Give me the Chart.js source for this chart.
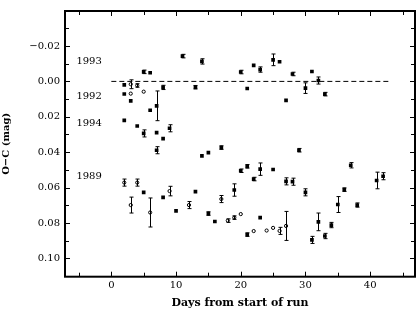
<!DOCTYPE html>
<html>
<head>
<meta charset="utf-8">
<script src="https://cdn.jsdelivr.net/npm/chart.js@4/dist/chart.umd.min.js"></script>
<style>
html,body{margin:0;padding:0;background:#fff;}
canvas{display:block;}
</style>
</head>
<body>
<canvas id="c" width="420" height="311"></canvas>
<script>
// ---- data ----
// 1993 / 1992 band (around zero), filled markers
const daysA = [2, 2, 3, 5, 6, 8, 11, 13, 14, 20, 21, 22, 23, 25, 26, 27, 28, 30, 31, 32, 33];
const valsA = [0.0020, 0.0071, 0.0110, -0.0054, -0.0049, 0.0034, -0.0143, 0.0033, -0.0113, -0.0053, 0.0040, -0.0091, -0.0067, -0.0122, -0.0111, 0.0107, -0.0042, 0.0038, -0.0056, -0.0005, 0.0072];
const errA  = [0, 0, 0, 0.0010, 0, 0.0012, 0.0010, 0.0010, 0.0015, 0.0010, 0, 0, 0.0015, 0.0033, 0, 0, 0.0010, 0.0030, 0, 0.0020, 0.0010];
// around zero, open markers
const daysAo = [3, 4, 3, 5];
const valsAo = [0.0016, 0.0023, 0.0069, 0.0058];
const errAo  = [0.0025, 0.0010, 0, 0];
// 1994 band, filled markers
const daysB = [2, 4, 5, 6, 7, 7, 8, 9, 7, 14, 15, 17, 29];
const valsB = [0.0220, 0.0252, 0.0294, 0.0163, 0.0138, 0.0290, 0.0323, 0.0265, 0.0389, 0.0421, 0.0403, 0.0374, 0.0389];
const errB  = [0, 0, 0.0020, 0, 0.0084, 0, 0, 0.0020, 0.0020, 0, 0, 0.0010, 0.0010];
// 1989 band, filled markers
const daysC = [5, 8, 10, 13, 15, 16, 19, 20, 21, 22, 23, 25, 21, 23, 27, 28, 30, 31, 32, 33, 34, 35, 36, 37, 38, 41, 42];
const valsC = [0.0627, 0.0656, 0.0732, 0.0623, 0.0747, 0.0792, 0.0614, 0.0505, 0.0480, 0.0552, 0.0496, 0.0498, 0.0866, 0.0770, 0.0565, 0.0567, 0.0627, 0.0896, 0.0794, 0.0874, 0.0812, 0.0696, 0.0612, 0.0474, 0.0699, 0.0560, 0.0536];
const errC  = [0, 0, 0, 0, 0.0010, 0, 0.0035, 0.0010, 0.0010, 0.0010, 0.0035, 0, 0.0010, 0, 0.0020, 0.0020, 0.0020, 0.0020, 0.0050, 0.0015, 0.0015, 0.0045, 0.0010, 0.0015, 0.0012, 0.0047, 0.0020];
// 1989 band, open markers
const daysCo = [2, 3, 4, 6, 9, 12, 17, 18, 19, 20, 22, 24, 25, 26, 27];
const valsCo = [0.0572, 0.0699, 0.0572, 0.0741, 0.0620, 0.0699, 0.0665, 0.0787, 0.0770, 0.0750, 0.0846, 0.0843, 0.0828, 0.0845, 0.0817];
const errCo  = [0.0020, 0.0045, 0.0020, 0.0082, 0.0027, 0.0020, 0.0020, 0.0010, 0.0010, 0, 0, 0, 0, 0.0020, 0.0082];
// reference line (O-C = 0)
const refDays = [0, 43];
const refVals = [0, 0];
// year labels
const yearNames = ['1993', '1992', '1994', '1989'];
const yearLevels = [-0.0113, 0.0087, 0.0240, 0.0535];
// tick values
const xMajorTicks = [0, 10, 20, 30, 40];
const xMinorTicks = [-5, 5, 15, 25, 35, 45];
const yMajorTicks = [-0.02, 0.00, 0.02, 0.04, 0.06, 0.08, 0.10];
const yMinorTicks = [-0.03, -0.01, 0.01, 0.03, 0.05, 0.07, 0.09];

const zip = (xs, ys) => xs.map((x, i) => ({x: x, y: ys[i]}));
const FONT = '"DejaVu Serif", serif';

const filledStyle = {pointStyle: 'rect', pointRadius: 2.6, pointBackgroundColor: '#000', pointBorderWidth: 0, showLine: false};
const openStyle = {pointStyle: 'circle', pointRadius: 1.6, pointBackgroundColor: '#fff', pointBorderColor: '#000', pointBorderWidth: 1, showLine: false};

const errorBars = {
  id: 'errorBars',
  afterDatasetsDraw(chart) {
    const ctx = chart.ctx, xs = chart.scales.x, ys = chart.scales.y;
    ctx.save();
    ctx.strokeStyle = '#000';
    ctx.lineWidth = 1;
    chart.data.datasets.forEach(ds => {
      if (!ds.errors) return;
      ds.data.forEach((p, i) => {
        const e = ds.errors[i];
        if (!e) return;
        const px = Math.round(xs.getPixelForValue(p.x)) + 0.5;
        const y1 = ys.getPixelForValue(p.y - e), y2 = ys.getPixelForValue(p.y + e);
        ctx.beginPath();
        ctx.moveTo(px, y1); ctx.lineTo(px, y2);
        ctx.moveTo(px - 2, y1); ctx.lineTo(px + 2, y1);
        ctx.moveTo(px - 2, y2); ctx.lineTo(px + 2, y2);
        ctx.stroke();
      });
    });
    ctx.restore();
  }
};

const frameAndTicks = {
  id: 'frameAndTicks',
  afterDraw(chart) {
    const ctx = chart.ctx, a = chart.chartArea, xs = chart.scales.x, ys = chart.scales.y;
    ctx.save();
    ctx.strokeStyle = '#000';
    ctx.lineWidth = 1;
    const L = 5, l = 4;
    ctx.beginPath();
    const xt = (v, len) => {
      const px = Math.round(xs.getPixelForValue(v)) + 0.5;
      ctx.moveTo(px, a.bottom); ctx.lineTo(px, a.bottom - len);
      ctx.moveTo(px, a.top); ctx.lineTo(px, a.top + len);
    };
    const yt = (v, len) => {
      const py = Math.round(ys.getPixelForValue(v)) + 0.5;
      ctx.moveTo(a.left, py); ctx.lineTo(a.left + len, py);
      ctx.moveTo(a.right, py); ctx.lineTo(a.right - len, py);
    };
    xMajorTicks.forEach(v => xt(v, L));
    xMinorTicks.forEach(v => xt(v, l));
    yMajorTicks.forEach(v => yt(v, L));
    yMinorTicks.forEach(v => yt(v, l));
    ctx.stroke();
    ctx.lineWidth = 2;
    ctx.strokeRect(a.left, a.top, a.right - a.left, a.bottom - a.top);
    // year labels
    ctx.fillStyle = '#000';
    ctx.font = '10px ' + FONT;
    ctx.textAlign = 'left';
    ctx.textBaseline = 'middle';
    yearNames.forEach((t, i) => {
      ctx.fillText(t, xs.getPixelForValue(-5.4), ys.getPixelForValue(yearLevels[i]));
    });
    ctx.restore();
  }
};

const fmtY = v => {
  if (Math.abs(v) < 1e-9) return '0.00';
  return (v < 0 ? '\u2212' : '') + Math.abs(v).toFixed(2);
};

new Chart(document.getElementById('c'), {
  type: 'scatter',
  data: {
    datasets: [
      Object.assign({label: '1993/1992', data: zip(daysA, valsA), errors: errA}, filledStyle),
      Object.assign({label: '1992 open', data: zip(daysAo, valsAo), errors: errAo}, openStyle),
      Object.assign({label: '1994', data: zip(daysB, valsB), errors: errB}, filledStyle),
      Object.assign({label: '1989', data: zip(daysC, valsC), errors: errC}, filledStyle),
      Object.assign({label: '1989 open', data: zip(daysCo, valsCo), errors: errCo}, openStyle),
      {label: 'zero', data: zip(refDays, refVals), showLine: true, borderColor: '#000', borderWidth: 1, borderDash: [5, 3], pointRadius: 0, fill: false}
    ]
  },
  options: {
    responsive: false,
    animation: false,
    devicePixelRatio: 1,
    layout: {padding: {left: 0, right: 2.3, top: 1, bottom: 0}},
    plugins: {legend: {display: false}, tooltip: {enabled: false}},
    scales: {
      x: {
        type: 'linear',
        min: -7.16, max: 46.93,
        grid: {display: false, drawTicks: false, tickLength: 0},
        border: {display: false},
        afterBuildTicks: s => { s.ticks = xMajorTicks.map(v => ({value: v})); },
        afterFit: s => { s.height = 34.3; },
        ticks: {color: '#000', font: {family: FONT, size: 10}, padding: 3, maxRotation: 0, callback: v => String(v)},
        title: {display: true, text: 'Days from start of run', color: '#000', font: {family: FONT, size: 11, weight: 'bold'}, padding: {top: 0, bottom: 1.5}}
      },
      y: {
        type: 'linear',
        reverse: true,
        min: -0.0398, max: 0.1104,
        grid: {display: false, drawTicks: false, tickLength: 0},
        border: {display: false},
        afterBuildTicks: s => { s.ticks = yMajorTicks.map(v => ({value: v})); },
        afterFit: s => { s.width = 65; },
        ticks: {color: '#000', font: {family: FONT, size: 10}, padding: 5, callback: v => fmtY(v)},
        title: {display: true, text: 'O\u2212C (mag)', color: '#000', font: {family: FONT, size: 10, weight: 'bold'}, padding: {top: 0, bottom: 0}}
      }
    }
  },
  plugins: [errorBars, frameAndTicks]
});
</script>
</body>
</html>
